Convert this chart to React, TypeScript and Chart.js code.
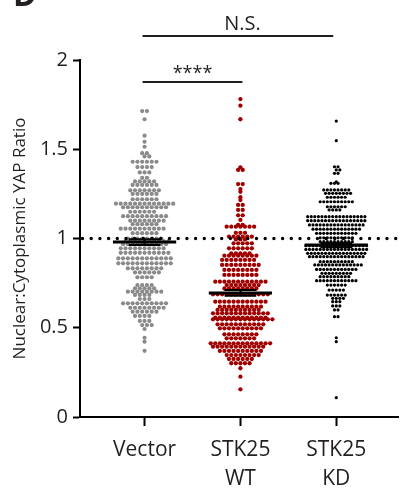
import React, { useEffect, useRef } from 'react';
import { Chart, registerables } from 'chart.js';

Chart.register(...registerables);

// ---- data ----
const categories: string[][] = [['Vector'], ['STK25', 'WT'], ['STK25', 'KD']];
const yTicks = [0, 0.5, 1, 1.5, 2];
const refLineValue = 1;

const vectorValues = [1.714, 1.668, 1.576, 1.542, 1.514, 1.478, 1.46, 1.43, 1.4, 1.37, 1.34, 1.32, 1.3, 1.27, 1.25, 1.22, 1.195, 1.175, 1.15, 1.125, 1.1, 1.08, 1.055, 1.03, 1.0, 0.985, 0.968, 0.945, 0.92, 0.889, 0.861, 0.833, 0.81, 0.783, 0.739, 0.721, 0.702, 0.684, 0.661, 0.637, 0.612, 0.59, 0.566, 0.538, 0.515, 0.493, 0.444, 0.422, 0.371];
const vectorCounts = [2, 1, 1, 1, 1, 2, 2, 6, 4, 3, 2, 5, 6, 7, 6, 6, 13, 10, 6, 10, 8, 6, 10, 6, 8, 10, 10, 10, 11, 12, 12, 8, 6, 4, 4, 5, 8, 4, 3, 10, 8, 6, 4, 3, 3, 1, 1, 1, 1];

const wtValues = [1.781, 1.744, 1.668, 1.399, 1.384, 1.305, 1.277, 1.262, 1.231, 1.215, 1.188, 1.16, 1.13, 1.104, 1.076, 1.066, 1.032, 1.01, 0.995, 0.973, 0.945, 0.917, 0.904, 0.88, 0.852, 0.824, 0.796, 0.758, 0.739, 0.72, 0.687, 0.646, 0.618, 0.6, 0.581, 0.556, 0.547, 0.519, 0.497, 0.463, 0.441, 0.413, 0.394, 0.37, 0.347, 0.325, 0.301, 0.273, 0.226, 0.155];
const wtCounts = [1, 1, 1, 1, 2, 2, 1, 1, 1, 1, 2, 2, 2, 1, 2, 7, 3, 6, 3, 5, 6, 5, 8, 8, 9, 8, 8, 12, 8, 8, 13, 12, 10, 10, 13, 12, 14, 11, 10, 8, 7, 14, 12, 10, 8, 6, 5, 1, 1, 1];

const kdValues = [1.658, 1.548, 1.402, 1.384, 1.365, 1.318, 1.309, 1.272, 1.253, 1.231, 1.206, 1.178, 1.16, 1.122, 1.1, 1.076, 1.052, 1.029, 1.004, 0.982, 0.96, 0.939, 0.917, 0.898, 0.87, 0.852, 0.827, 0.805, 0.786, 0.764, 0.739, 0.711, 0.683, 0.665, 0.646, 0.622, 0.6, 0.562, 0.444, 0.422, 0.108];
const kdCounts = [1, 1, 2, 2, 2, 1, 3, 8, 8, 6, 10, 6, 4, 17, 17, 16, 14, 12, 10, 10, 18, 18, 17, 16, 10, 14, 12, 9, 9, 12, 6, 5, 6, 4, 3, 3, 2, 2, 1, 1, 1];

const groupMeans = [0.98, 0.695, 0.963];
const groupSems = [0.016, 0.016, 0.012];

const nsLabel = 'N.S.';
const sigLabel = '****';
const panelLabel = 'D';

// ---- styling ----
const FONT = "'Open Sans', 'DejaVu Sans', sans-serif";
const TEXT = '#231f20';
const groupColors = ['#8a8a8a', '#a00000', '#000000'];
const groupSpacing = [4.8, 4.6, 3.6];
const groupRadius = [2.1, 2.15, 1.6];

// pixel scale used for the row layout (matches the chart's scales)
const PX_PER_X = 96.5;
const PX_PER_Y = 178.5;

// Prism-style rows: each value row is centred on its category, points spaced evenly;
// a row that sits very close to the previous one with the same parity is shifted half a step.
function rowLayout(values: number[], counts: number[], spacing: number, center: number) {
  const pts: { x: number; y: number }[] = [];
  let prevY = -999;
  let prevShift = 0;
  let prevCount = -1;
  let flip = 1;
  values.forEach((v, i) => {
    const n = counts[i];
    const yPx = v * PX_PER_Y;
    let shift = 0;
    if (Math.abs(prevY - yPx) < spacing && prevCount % 2 === n % 2 && prevShift === 0 && n > 1) {
      shift = (flip * spacing) / 2;
      flip = -flip;
    }
    for (let k = 0; k < n; k++) {
      const off = (k - (n - 1) / 2) * spacing + shift;
      pts.push({ x: center + off / PX_PER_X, y: v });
    }
    prevY = yPx;
    prevShift = shift;
    prevCount = n;
  });
  return pts;
}

const groupData = [
  { values: vectorValues, counts: vectorCounts },
  { values: wtValues, counts: wtCounts },
  { values: kdValues, counts: kdCounts },
];

const overlayPlugin = {
  id: 'overlay',
  afterDatasetsDraw(chart: any) {
    const { ctx, chartArea, scales } = chart;
    const xs = scales.x;
    const ys = scales.y;
    ctx.save();
    // dotted reference line
    const yRef = ys.getPixelForValue(refLineValue);
    ctx.setLineDash([0, 8.7]);
    ctx.lineCap = 'round';
    ctx.lineWidth = 3.4;
    ctx.strokeStyle = '#000';
    ctx.beginPath();
    ctx.moveTo(chartArea.left + 2.5, yRef);
    ctx.lineTo(chartArea.right, yRef);
    ctx.stroke();
    ctx.setLineDash([]);
    ctx.lineCap = 'butt';
    // means and SEM
    groupMeans.forEach((m, i) => {
      const xc = xs.getPixelForValue(i);
      const half = 0.33 * (xs.getPixelForValue(1) - xs.getPixelForValue(0));
      const capHalf = half / 2;
      const ym = ys.getPixelForValue(m);
      const yt = ys.getPixelForValue(m + groupSems[i]);
      const yb = ys.getPixelForValue(m - groupSems[i]);
      ctx.strokeStyle = '#000';
      ctx.lineWidth = 3;
      ctx.beginPath();
      ctx.moveTo(xc - half, ym);
      ctx.lineTo(xc + half, ym);
      ctx.stroke();
      ctx.lineWidth = 2;
      ctx.beginPath();
      ctx.moveTo(xc, yt);
      ctx.lineTo(xc, yb);
      ctx.moveTo(xc - capHalf, yt);
      ctx.lineTo(xc + capHalf, yt);
      ctx.moveTo(xc - capHalf, yb);
      ctx.lineTo(xc + capHalf, yb);
      ctx.stroke();
    });
    ctx.restore();
  },
  afterDraw(chart: any) {
    const { ctx, scales } = chart;
    const xs = scales.x;
    const ys = scales.y;
    ctx.save();
    ctx.strokeStyle = '#231f20';
    ctx.lineWidth = 2;
    // N.S. bracket
    const yNs = ys.getPixelForValue(2.134);
    ctx.beginPath();
    ctx.moveTo(xs.getPixelForValue(0) - 2, yNs);
    ctx.lineTo(xs.getPixelForValue(2) - 3, yNs);
    ctx.stroke();
    // **** bracket
    const ySig = ys.getPixelForValue(1.877);
    ctx.beginPath();
    ctx.moveTo(xs.getPixelForValue(0) - 2, ySig);
    ctx.lineTo(xs.getPixelForValue(1) + 2, ySig);
    ctx.stroke();
    ctx.fillStyle = TEXT;
    ctx.textAlign = 'center';
    ctx.textBaseline = 'middle';
    ctx.font = `20px ${FONT}`;
    ctx.fillText(nsLabel, xs.getPixelForValue(1) + 2, ys.getPixelForValue(2.2));
    ctx.font = `18px ${FONT}`;
    ctx.fillText(sigLabel, (xs.getPixelForValue(0) + xs.getPixelForValue(1)) / 2, ys.getPixelForValue(1.92));
    // panel label
    ctx.textAlign = 'left';
    ctx.textBaseline = 'alphabetic';
    ctx.font = `bold 32px ${FONT}`;
    ctx.fillText(panelLabel, 13, 6);
    ctx.restore();
  },
};

export default function App() {
  const ref = useRef<HTMLCanvasElement>(null);
  useEffect(() => {
    if (!ref.current) return;
    const datasets = groupData.map((g, gi) => ({
      label: categories[gi].join(' '),
      data: rowLayout(g.values, g.counts, groupSpacing[gi], gi),
      backgroundColor: groupColors[gi],
      borderWidth: 0,
      pointRadius: groupRadius[gi],
      pointHoverRadius: groupRadius[gi],
    }));
    const chart = new Chart(ref.current, {
      type: 'scatter',
      data: { datasets },
      options: {
        responsive: false,
        animation: false,
        layout: { padding: { left: 8, top: 60, right: 0, bottom: 0 } },
        plugins: { legend: { display: false }, tooltip: { enabled: false } },
        scales: {
          x: {
            type: 'linear',
            min: -0.6736,
            max: 2.653,
            afterBuildTicks: (s: any) => {
              s.ticks = [0, 1, 2].map((v) => ({ value: v }));
            },
            afterFit: (s: any) => {
              s.height = 74;
            },
            ticks: {
              callback: (v: any) => categories[Math.round(v)],
              font: { family: FONT, size: 21, lineHeight: 1.36 },
              color: TEXT,
              padding: 10,
              maxRotation: 0,
              autoSkip: false,
            },
            grid: { drawOnChartArea: false, tickLength: 9, tickWidth: 2, tickColor: '#000' },
            border: { display: true, color: '#000', width: 2 },
          },
          y: {
            type: 'linear',
            min: 0,
            max: 2,
            afterBuildTicks: (s: any) => {
              s.ticks = yTicks.map((v) => ({ value: v }));
            },
            afterFit: (s: any) => {
              s.width = 72;
            },
            ticks: {
              callback: (v: any) => String(v),
              font: { family: FONT, size: 20 },
              color: TEXT,
              padding: 5,
            },
            grid: { drawOnChartArea: false, tickLength: 7, tickWidth: 2, tickColor: '#000' },
            border: { display: true, color: '#000', width: 2 },
            title: {
              display: true,
              text: 'Nuclear:Cytoplasmic YAP Ratio',
              font: { family: FONT, size: 17 },
              color: TEXT,
              padding: { top: 2, bottom: 0 },
            },
          },
        },
      },
      plugins: [overlayPlugin],
    } as any);
    return () => chart.destroy();
  }, []);
  return (
    <canvas
      ref={ref}
      width={401}
      height={491}
      style={{ position: 'fixed', left: 0, top: 0, width: 401, height: 491 }}
    />
  );
}
